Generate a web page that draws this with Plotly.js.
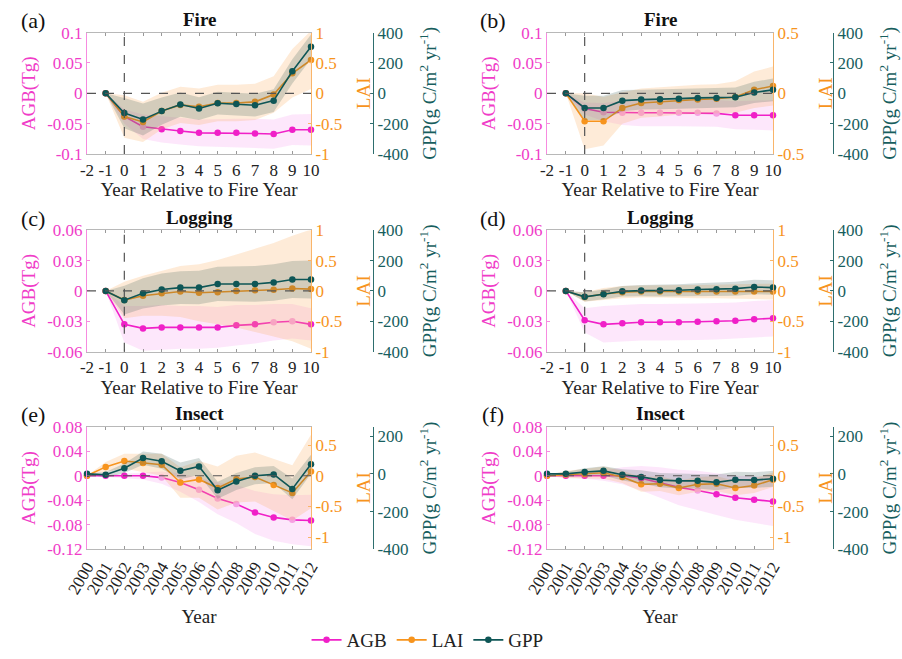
<!DOCTYPE html>
<html>
<head>
<meta charset="utf-8">
<script src="https://cdn.plot.ly/plotly-3.0.1.min.js"></script>
<style>html,body{margin:0;padding:0;background:#fff;}#chart{width:902px;height:659px;}</style>
</head>
<body>
<div id="chart"></div>
<script>
// ---------- data ----------
const relYears = [-1, 0, 1, 2, 3, 4, 5, 6, 7, 8, 9, 10];
const relTicks = [-2, -1, 0, 1, 2, 3, 4, 5, 6, 7, 8, 9, 10];
const calYears = [2000, 2001, 2002, 2003, 2004, 2005, 2006, 2007, 2008, 2009, 2010, 2011, 2012];

// (a) Fire
const aAGB   = [0, -0.038, -0.055, -0.059, -0.062, -0.065, -0.065, -0.065, -0.066, -0.067, -0.060, -0.060];
const aAGBsd = [0, 0.012, 0.02, 0.022, 0.022, 0.022, 0.023, 0.023, 0.024, 0.024, 0.025, 0.026];
const aLAI   = [0, -0.38, -0.47, -0.29, -0.19, -0.22, -0.16, -0.16, -0.14, -0.02, 0.33, 0.55];
const aLAIsd = [0, 0.35, 0.33, 0.3, 0.3, 0.3, 0.3, 0.3, 0.3, 0.3, 0.4, 0.48];
const aGPP   = [0, -130, -172, -117, -74, -100, -65, -70, -78, -48, 145, 307];
const aGPPsd = [0, 100, 105, 90, 80, 75, 75, 75, 75, 75, 80, 80];
// (b) Fire
const bAGB   = [0, -0.025, -0.031, -0.032, -0.032, -0.032, -0.032, -0.032, -0.033, -0.036, -0.036, -0.036];
const bAGBsd = [0, 0.01, 0.015, 0.02, 0.022, 0.022, 0.022, 0.022, 0.022, 0.023, 0.024, 0.025];
const bLAI   = [0, -0.23, -0.23, -0.12, -0.08, -0.07, -0.055, -0.05, -0.045, -0.03, 0.03, 0.06];
const bLAIsd = [0, 0.23, 0.2, 0.13, 0.12, 0.12, 0.12, 0.12, 0.12, 0.13, 0.15, 0.16];
const bGPP   = [0, -96, -96, -48, -41, -39, -35, -30, -30, -26, 6, 23];
const bGPPsd = [0, 80, 80, 70, 65, 65, 65, 65, 65, 65, 70, 75];
// (c) Logging
const cAGB   = [0, -0.033, -0.037, -0.036, -0.036, -0.036, -0.036, -0.034, -0.033, -0.031, -0.030, -0.033];
const cAGBsd = [0, 0.018, 0.022, 0.022, 0.021, 0.021, 0.02, 0.02, 0.019, 0.018, 0.017, 0.016];
const cLAI   = [0, -0.15, -0.08, -0.04, -0.01, -0.03, -0.02, 0, 0.01, 0.02, 0.04, 0.03];
const cLAIsd = [0, 0.3, 0.33, 0.37, 0.42, 0.47, 0.53, 0.6, 0.68, 0.77, 0.87, 0.98];
const cGPP   = [0, -61, -16, 9, 22, 22, 46, 46, 46, 56, 75, 75];
const cGPPsd = [0, 95, 100, 105, 108, 110, 113, 115, 118, 120, 122, 125];
// (d) Logging
const dAGB   = [0, -0.029, -0.033, -0.032, -0.031, -0.031, -0.031, -0.0305, -0.030, -0.0295, -0.028, -0.027];
const dAGBsd = [0, 0.012, 0.018, 0.018, 0.018, 0.018, 0.018, 0.018, 0.018, 0.018, 0.018, 0.018];
const dLAI   = [0, -0.1, -0.05, -0.02, -0.01, -0.01, -0.01, -0.01, -0.01, -0.01, -0.01, -0.01];
const dLAIsd = [0, 0.08, 0.1, 0.1, 0.1, 0.1, 0.1, 0.11, 0.11, 0.12, 0.12, 0.13];
const dGPP   = [0, -39, -22, -2, 2, 2, 4, 9, 11, 15, 26, 22];
const dGPPsd = [0, 30, 32, 35, 37, 38, 40, 42, 44, 46, 48, 48];
// (e) Insect
const eAGB   = [0, 0, 0, 0, -0.003, -0.011, -0.023, -0.037, -0.046, -0.060, -0.068, -0.072, -0.073];
const eAGBsd = [0, 0.002, 0.004, 0.006, 0.01, 0.015, 0.02, 0.026, 0.031, 0.035, 0.038, 0.04, 0.042];
const eLAI   = [0, 0.145, 0.24, 0.21, 0.18, -0.11, -0.06, -0.2, -0.055, -0.02, -0.15, -0.28, 0.07];
const eLAIsd = [0, 0.08, 0.12, 0.15, 0.18, 0.25, 0.3, 0.35, 0.38, 0.4, 0.42, 0.45, 0.6];
const eGPP   = [0, -5, 30, 84, 67, 16, 39, -87, -40, -10, -3, -80, 51];
const eGPPsd = [0, 15, 25, 35, 40, 45, 45, 45, 45, 45, 45, 55, 50];
// (f) Insect
const fAGB   = [0, 0, 0, 0, 0, -0.004, -0.011, -0.019, -0.024, -0.030, -0.036, -0.039, -0.042];
const fAGBsd = [0, 0.003, 0.005, 0.008, 0.014, 0.02, 0.025, 0.029, 0.032, 0.034, 0.036, 0.038, 0.04];
const fLAI   = [0, 0.02, 0.03, 0.05, -0.02, -0.14, -0.13, -0.2, -0.14, -0.13, -0.2, -0.16, -0.065];
const fLAIsd = [0, 0.06, 0.08, 0.1, 0.1, 0.12, 0.12, 0.12, 0.12, 0.12, 0.12, 0.12, 0.12];
const fGPP   = [0, 0, 10, 16, -5, -16, -33, -37, -37, -45, -31, -33, -26];
const fGPPsd = [0, 10, 20, 25, 30, 35, 38, 40, 40, 42, 42, 42, 42];

// indices of AGB points drawn in the pale (non-significant) tint
const aAGBfaint = [1, 2];
const bAGBfaint = [1, 2, 3, 4, 5, 6, 7, 8];
const cAGBfaint = [9, 10];
const dAGBfaint = [];
const eAGBfaint = [4, 5, 6, 7, 8, 11];
const fAGBfaint = [7, 8];

// tick labels
const agbTicksFire = [-0.1, -0.05, 0, 0.05, 0.1];
const agbTextFire  = ['-0.1', '-0.05', '0', '0.05', '0.1'];
const agbTicksLog  = [-0.06, -0.03, 0, 0.03, 0.06];
const agbTextLog   = ['-0.06', '-0.03', '0', '0.03', '0.06'];
const agbTicksIns  = [-0.12, -0.08, -0.04, 0, 0.04, 0.08];
const agbTextIns   = ['-0.12', '-0.08', '-0.04', '0', '0.04', '0.08'];
const laiTicks1    = [-1, -0.5, 0, 0.5, 1];
const laiText1     = ['-1', '-0.5', '0', '0.5', '1'];
const laiTicksB    = [-0.5, 0, 0.5];
const laiTextB     = ['-0.5', '0', '0.5'];
const laiTicksIns  = [-1, -0.5, 0, 0.5];
const laiTextIns   = ['-1', '-0.5', '0', '0.5'];
const gppTicks     = [-400, -200, 0, 200, 400];
const gppText      = ['-400', '-200', '0', '200', '400'];
const gppTicksIns  = [-400, -200, 0, 200];
const gppTextIns   = ['-400', '-200', '0', '200'];
const relTickText  = ['-2', '-1', '0', '1', '2', '3', '4', '5', '6', '7', '8', '9', '10'];
const calTickText  = calYears.map(String);
const labels = ['(a)', '(b)', '(c)', '(d)', '(e)', '(f)'];
const titles = ['Fire', 'Fire', 'Logging', 'Logging', 'Insect', 'Insect'];
const seriesNames = ['AGB', 'LAI', 'GPP'];

// ---------- styling ----------
const FONT = '"Liberation Serif", "Times New Roman", serif';
const cAGBcol = '#F020C8', cLAIcol = '#F7941D', cGPPcol = '#0E5656';
const faintAGB = '#F6A0E2';
const bandCols = ['rgba(245,120,235,0.18)', 'rgba(252,175,100,0.25)', 'rgba(60,95,85,0.22)'];
const lineCols = [cAGBcol, cLAIcol, cGPPcol];
const tickCols = ['#F03CC8', '#F7941D', '#175E5E'];

const panels = [
  {x: relYears, s: [[aAGB, aAGBsd], [aLAI, aLAIsd], [aGPP, aGPPsd]], faint: aAGBfaint, agbR: [-0.1, 0.1], agbT: [agbTicksFire, agbTextFire], laiR: [-1, 1], laiT: [laiTicks1, laiText1], gppR: [-400, 400], gppT: [gppTicks, gppText], rel: true},
  {x: relYears, s: [[bAGB, bAGBsd], [bLAI, bLAIsd], [bGPP, bGPPsd]], faint: bAGBfaint, agbR: [-0.1, 0.1], agbT: [agbTicksFire, agbTextFire], laiR: [-0.5, 0.5], laiT: [laiTicksB, laiTextB], gppR: [-400, 400], gppT: [gppTicks, gppText], rel: true},
  {x: relYears, s: [[cAGB, cAGBsd], [cLAI, cLAIsd], [cGPP, cGPPsd]], faint: cAGBfaint, agbR: [-0.06, 0.06], agbT: [agbTicksLog, agbTextLog], laiR: [-1, 1], laiT: [laiTicks1, laiText1], gppR: [-400, 400], gppT: [gppTicks, gppText], rel: true},
  {x: relYears, s: [[dAGB, dAGBsd], [dLAI, dLAIsd], [dGPP, dGPPsd]], faint: dAGBfaint, agbR: [-0.06, 0.06], agbT: [agbTicksLog, agbTextLog], laiR: [-1, 1], laiT: [laiTicks1, laiText1], gppR: [-400, 400], gppT: [gppTicks, gppText], rel: true},
  {x: calYears, s: [[eAGB, eAGBsd], [eLAI, eLAIsd], [eGPP, eGPPsd]], faint: eAGBfaint, agbR: [-0.12, 0.08], agbT: [agbTicksIns, agbTextIns], laiR: [-1.2, 0.8], laiT: [laiTicksIns, laiTextIns], gppR: [-400, 250], gppT: [gppTicksIns, gppTextIns], rel: false},
  {x: calYears, s: [[fAGB, fAGBsd], [fLAI, fLAIsd], [fGPP, fGPPsd]], faint: fAGBfaint, agbR: [-0.12, 0.08], agbT: [agbTicksIns, agbTextIns], laiR: [-1.2, 0.8], laiT: [laiTicksIns, laiTextIns], gppR: [-400, 250], gppT: [gppTicksIns, gppTextIns], rel: false}
];

// ---------- geometry (pixels) ----------
const W = 902, H = 659;
const fx = p => p / W, fy = p => 1 - p / H;
const cols = [{x0: 87, x1: 311, g: 373}, {x0: 547, x1: 773, g: 833}];
const rows = [{y0: 33, y1: 156}, {y0: 233, y1: 356}, {y0: 432, y1: 556}];

const data = [];
const layout = {
  width: W, height: H,
  margin: {l: 0, r: 0, t: 0, b: 0},
  paper_bgcolor: '#fff', plot_bgcolor: '#fff',
  font: {family: FONT, size: 17, color: '#222'},
  showlegend: true,
  legend: {orientation: 'h', x: 0.474, xanchor: 'center', y: fy(648), yanchor: 'middle',
           font: {family: FONT, size: 19, color: '#222'}, bgcolor: 'rgba(0,0,0,0)', itemwidth: 30, tracegroupgap: 0},
  shapes: [], annotations: []
};

panels.forEach((p, i) => {
  const col = cols[i % 2], row = rows[Math.floor(i / 2)];
  const xn = i + 1;
  const xid = xn === 1 ? 'x' : 'x' + xn;
  const yIds = [3 * i + 1, 3 * i + 2, 3 * i + 3].map(k => k === 1 ? 'y' : 'y' + k);
  const xKey = xn === 1 ? 'xaxis' : 'xaxis' + xn;
  const yKeys = yIds.map(id => id === 'y' ? 'yaxis' : 'yaxis' + id.slice(1));

  // bands then lines per series (series order sets drawing layers)
  p.s.forEach((ser, k) => {
    const m = ser[0], sd = ser[1];
    const up = m.map((v, j) => v + sd[j]);
    const lo = m.map((v, j) => v - sd[j]);
    data.push({
      type: 'scatter', mode: 'lines', xaxis: xid, yaxis: yIds[k],
      x: p.x.concat(p.x.slice().reverse()),
      y: up.concat(lo.slice().reverse()),
      fill: 'toself', fillcolor: bandCols[k], line: {width: 0, color: bandCols[k]},
      hoverinfo: 'skip', showlegend: false
    });
    const mcol = k === 0 ? m.map((v, j) => p.faint.indexOf(j) >= 0 ? faintAGB : cAGBcol) : lineCols[k];
    data.push({
      type: 'scatter', mode: 'lines+markers', xaxis: xid, yaxis: yIds[k],
      x: p.x, y: m, name: seriesNames[k], legendgroup: seriesNames[k],
      showlegend: i === 0, cliponaxis: false,
      line: {color: lineCols[k], width: 1.6},
      marker: {color: mcol, size: 6.5, symbol: 'circle'}
    });
  });

  const tfont = {family: FONT, size: 17};
  layout[xKey] = {
    domain: [fx(col.x0), fx(col.x1)], anchor: yIds[0],
    range: p.rel ? [-2, 10] : [2000, 2012],
    tickmode: 'array',
    tickvals: p.rel ? relTicks : calYears,
    ticktext: p.rel ? relTickText : calTickText,
    tickangle: p.rel ? 0 : -60,
    tickfont: Object.assign({color: '#222'}, tfont),
    showline: true, mirror: 'ticks', linecolor: '#b8b8b8', linewidth: 1,
    ticks: 'inside', ticklen: 3, tickcolor: '#999',
    showgrid: false, zeroline: false, automargin: false,
    title: {text: p.rel ? 'Year Relative to Fire Year' : 'Year', font: {family: FONT, size: 19, color: '#222'}, standoff: p.rel ? 2 : 12}
  };
  layout[yKeys[0]] = {
    domain: [fy(row.y1), fy(row.y0)], anchor: xid,
    range: p.agbR, tickmode: 'array', tickvals: p.agbT[0], ticktext: p.agbT[1],
    tickfont: Object.assign({color: tickCols[0]}, tfont),
    showline: true, linecolor: '#F78BE0', linewidth: 1,
    ticks: 'inside', ticklen: 3, tickcolor: '#F78BE0',
    showgrid: false, zeroline: false, automargin: false,
    title: {text: 'AGB(Tg)', font: {family: FONT, size: 19, color: tickCols[0]}, standoff: 6}
  };
  layout[yKeys[1]] = {
    overlaying: yIds[0], side: 'right', anchor: xid,
    range: p.laiR, tickmode: 'array', tickvals: p.laiT[0], ticktext: p.laiT[1],
    tickfont: Object.assign({color: tickCols[1]}, tfont),
    showline: true, linecolor: '#F9B56A', linewidth: 1,
    ticks: 'inside', ticklen: 3, tickcolor: '#F9B56A',
    showgrid: false, zeroline: false, automargin: false,
    title: {text: 'LAI', font: {family: FONT, size: 19, color: tickCols[1]}, standoff: 15}
  };
  layout[yKeys[2]] = {
    overlaying: yIds[0], side: 'right', anchor: 'free', position: fx(col.g),
    range: p.gppR, tickmode: 'array', tickvals: p.gppT[0], ticktext: p.gppT[1],
    tickfont: Object.assign({color: tickCols[2]}, tfont),
    showline: true, linecolor: '#2E6E6E', linewidth: 1,
    ticks: 'inside', ticklen: 3, tickcolor: '#2E6E6E',
    showgrid: false, zeroline: false, automargin: false,
    title: {text: 'GPP(g C/m<sup>2</sup> yr<sup>-1</sup>)', font: {family: FONT, size: 19, color: tickCols[2]}, standoff: 15}
  };

  // reference lines
  layout.shapes.push({type: 'line', xref: xid + ' domain', yref: yIds[0], x0: 0, x1: 1, y0: 0, y1: 0,
                      line: {color: '#555', width: 1.2, dash: 'dash'}});
  if (p.rel) {
    layout.shapes.push({type: 'line', xref: xid, yref: yIds[0] + ' domain', x0: 0, x1: 0, y0: 0, y1: 1,
                        line: {color: '#555', width: 1.2, dash: 'dash'}});
  }

  // panel letter and title
  layout.annotations.push({xref: 'paper', yref: 'paper', x: fx(col.x0 - 54), y: fy(row.y0 - 12),
    text: labels[i], showarrow: false, xanchor: 'center', yanchor: 'middle',
    font: {family: FONT, size: 22, color: '#111'}});
  layout.annotations.push({xref: 'paper', yref: 'paper', x: fx((col.x0 + col.x1) / 2), y: fy(row.y0 - 13),
    text: '<b>' + titles[i] + '</b>', showarrow: false, xanchor: 'center', yanchor: 'middle',
    font: {family: FONT, size: 19, color: '#111'}});
});

Plotly.newPlot('chart', data, layout, {staticPlot: true, displayModeBar: false});
</script>
</body>
</html>
